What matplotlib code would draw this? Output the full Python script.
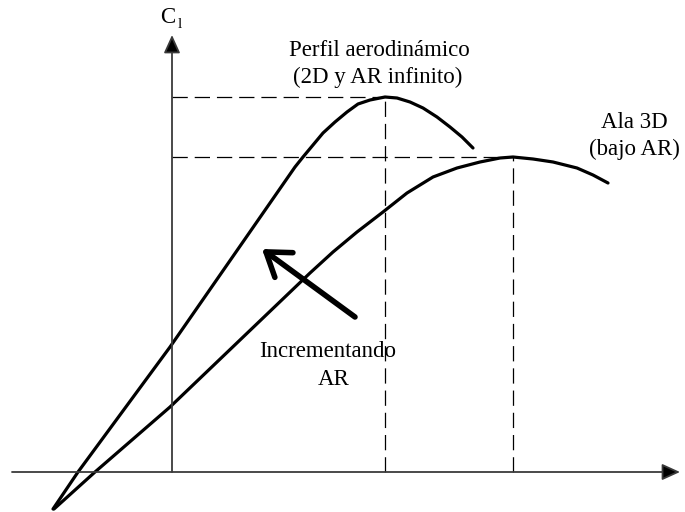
import numpy as np
import matplotlib
matplotlib.use("Agg")
import matplotlib.pyplot as plt

plt.rcParams["font.family"] = ["Liberation Serif", "DejaVu Serif"]
plt.rcParams["lines.scale_dashes"] = False

# curve data (alpha, Cl)
alpha_2d = [-5.95, -4.7, -0.1, 6.15, 6.55, 7.05, 7.55, 8.15, 8.75, 9.3, 9.9, 10.65,
            11.25, 11.9, 12.55, 13.25, 13.9, 14.5, 15.05]
cl_2d = [-0.148, 0.0, 0.5, 1.22, 1.26, 1.308, 1.356, 1.4, 1.44, 1.472, 1.488, 1.5,
         1.496, 1.48, 1.456, 1.42, 1.38, 1.34, 1.296]

alpha_3d = [-5.9, -3.85, -0.1, 6.9, 8.05, 9.25, 10.55, 11.75, 13.05, 14.25, 15.4, 16.4,
            17.05, 18.05, 19.05, 20.25, 21.05, 21.8]
cl_3d = [-0.148, 0.0, 0.26, 0.796, 0.88, 0.96, 1.04, 1.116, 1.18, 1.216, 1.24, 1.256,
         1.26, 1.252, 1.24, 1.216, 1.188, 1.156]

label_2d = ["Perfil aerodinámico", "(2D y AR infinito)"]
label_3d = ["Ala 3D", "(bajo AR)"]
label_arrow = ["Incrementando", "AR"]

fig = plt.figure(figsize=(6.85, 5.12), dpi=100)
ax = fig.add_axes([0, 0, 1, 1])
ax.set_xlim(-8.6, 25.65)
ax.set_ylim(-0.16, 1.888)
ax.axis("off")

axis_col = "#3a3a3a"
# axes with arrow heads
ax.annotate("", xy=(25.4, 0), xytext=(-8.0, 0),
            arrowprops=dict(arrowstyle="-|>,head_length=1.1,head_width=0.5", mutation_scale=10,
                            lw=1.3, color=axis_col, fc="black", shrinkA=0, shrinkB=0))
ax.annotate("", xy=(0, 1.748), xytext=(0, 0),
            arrowprops=dict(arrowstyle="-|>,head_length=1.1,head_width=0.5", mutation_scale=10,
                            lw=1.3, color=axis_col, fc="black", shrinkA=0, shrinkB=0))

# dashed guide lines to the maxima
for a, c in [(alpha_2d, cl_2d), (alpha_3d, cl_3d)]:
    i = int(np.argmax(c))
    ax.plot([0, a[i]], [c[i], c[i]], color="black", lw=0.9, dashes=(11, 5))
    ax.plot([a[i], a[i]], [0, c[i]], color="black", lw=0.9, dashes=(11, 5))

ax.plot(alpha_2d, cl_2d, color="black", lw=2.3, solid_joinstyle="round", solid_capstyle="round")
ax.plot(alpha_3d, cl_3d, color="black", lw=2.3, solid_joinstyle="round", solid_capstyle="round")

# thick arrow "Incrementando AR"
ax.annotate("", xy=(4.5, 0.892), xytext=(9.15, 0.62),
            arrowprops=dict(arrowstyle="->,head_length=0.8,head_width=0.55", mutation_scale=20,
                            lw=4, color="black", shrinkA=0, shrinkB=0))

fs = 16.5
ax.text(-0.6, 1.796, "C", fontsize=fs, ha="left", va="baseline")
ax.text(0.3, 1.776, "l", fontsize=11, ha="left", va="baseline")
ax.text(10.35, 1.664, label_2d[0], fontsize=fs, ha="center", va="baseline")
ax.text(10.3, 1.556, label_2d[1], fontsize=fs, ha="center", va="baseline")
ax.text(23.1, 1.376, label_3d[0], fontsize=fs, ha="center", va="baseline")
ax.text(23.1, 1.268, label_3d[1], fontsize=fs, ha="center", va="baseline")
ax.text(7.8, 0.46, label_arrow[0], fontsize=fs, ha="center", va="baseline")
ax.text(8.1, 0.348, label_arrow[1], fontsize=fs, ha="center", va="baseline")

fig.savefig("out.png", dpi=100)
